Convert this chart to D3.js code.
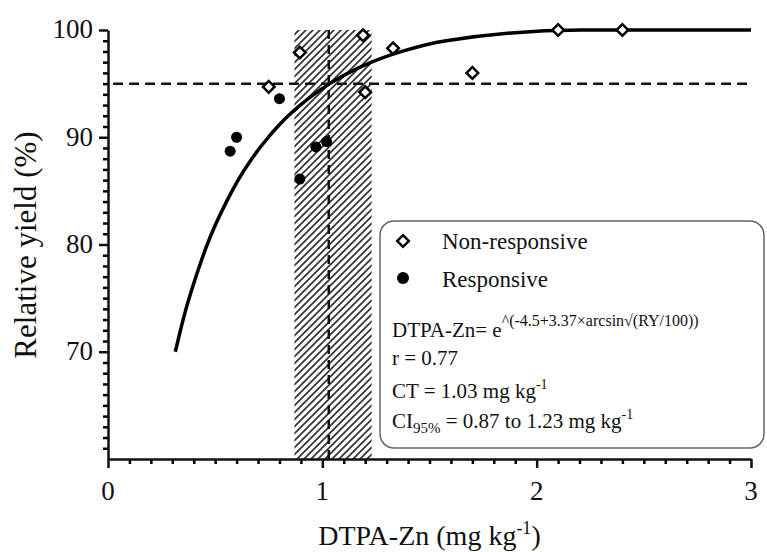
<!DOCTYPE html>
<html>
<head>
<meta charset="utf-8">
<script src="https://cdn.jsdelivr.net/npm/d3@7"></script>
<style>
  body { margin: 0; background: #fff; }
  #chart { position: relative; width: 767px; height: 552px; }
  #chart svg { position: absolute; left: 0; top: 0; }
  .lbl {
    position: absolute;
    white-space: nowrap;
    line-height: 1;
    color: #111;
    font-family: 'Liberation Serif', 'Times New Roman', serif;
  }
  .lbl .sup { position: relative; }
</style>
</head>
<body>
<div id="chart"></div>
<script>
const width = 767;
const height = 552;
const serif = "'Liberation Serif', 'Times New Roman', serif";

// non-responsive sites (open diamonds)
const nonRespX = [0.75, 0.895, 1.19, 1.20, 1.33, 1.70, 2.10, 2.40];
const nonRespY = [94.7, 97.9, 99.5, 94.2, 98.3, 96.0, 100, 100];

// responsive sites (filled dots)
const respX = [0.57, 0.60, 0.80, 0.895, 0.97, 1.02];
const respY = [88.7, 90.0, 93.6, 86.1, 89.1, 89.6];

// fitted curve
const curveX = [0.314, 0.338, 0.364, 0.394, 0.427, 0.463, 0.505, 0.553, 0.607, 0.671, 0.748,
                0.792, 0.841, 0.897, 0.961, 1.035, 1.122, 1.23, 1.371, 1.578, 2.21, 3.0];
const curveY = [70, 72, 74, 76, 78, 80, 82, 84, 86, 88, 90,
                91, 92, 93, 94, 95, 96, 97, 98, 99, 100, 100];

const critical = 1.03;     // CT
const ciRange = [0.87, 1.23];
const ryLevel = 95;

const xTicks = [0, 1, 2, 3];
const yTicks = [70, 80, 90, 100];

const chart = d3.select("#chart");

const svg = chart
  .append("svg")
  .attr("width", width)
  .attr("height", height);

// scales
let x = d3.scaleLinear().domain([0, 3]).range([108, 751]);
let y = d3.scaleLinear().domain([60, 100]).range([459, 30]);

// large labels are html text laid over the svg (keeps the serif face at big sizes)
// baseline sits about 0.8375em below the top of a line-height:1 box
let label = (html, px, baseline, size, anchor) => {
  let shift = anchor === "middle" ? "-50%" : anchor === "end" ? "-100%" : "0";
  return chart.append("div")
    .attr("class", "lbl")
    .style("left", px + "px")
    .style("top", (baseline - 0.8375 * size) + "px")
    .style("font-size", size + "px")
    .style("transform", `translateX(${shift})`)
    .html(html);
};

// hatch pattern for the 95% CI band
let defs = svg.append("defs");
defs.append("pattern")
  .attr("id", "hatch")
  .attr("patternUnits", "userSpaceOnUse")
  .attr("width", 7)
  .attr("height", 7)
  .append("path")
  .attr("d", "M-1,1 l2,-2 M0,7 l7,-7 M6,8 l2,-2")
  .attr("stroke", "#333")
  .attr("stroke-width", 1.7);

svg.append("rect")
  .attr("x", x(ciRange[0]))
  .attr("y", y(100))
  .attr("width", x(ciRange[1]) - x(ciRange[0]))
  .attr("height", y(60) - y(100))
  .attr("fill", "url(#hatch)");

// dashed reference lines
svg.append("line")
  .attr("x1", x(0) + 5)
  .attr("x2", x(3) - 4)
  .attr("y1", y(ryLevel))
  .attr("y2", y(ryLevel))
  .attr("stroke", "#111")
  .attr("stroke-width", 2.5)
  .attr("stroke-dasharray", "10,6");

svg.append("line")
  .attr("x1", x(critical))
  .attr("x2", x(critical))
  .attr("y1", y(100))
  .attr("y2", y(60))
  .attr("stroke", "#111")
  .attr("stroke-width", 2.5)
  .attr("stroke-dasharray", "9,6");

// axes: minor ticks first, then majors
let yMinor = d3.range(61, 100).filter(v => v % 10 !== 0);
let xMinor = d3.range(1, 30).map(v => v / 10).filter((v, i) => (i + 1) % 10 !== 0);

svg.append("g")
  .attr("transform", `translate(${x(0)},0)`)
  .call(d3.axisLeft(y).tickValues(yMinor).tickSize(5).tickSizeOuter(0).tickFormat(""))
  .call(g => g.select(".domain").remove())
  .selectAll("line").attr("stroke-width", 2.5);

svg.append("g")
  .attr("transform", `translate(0,${y(60)})`)
  .call(d3.axisBottom(x).tickValues(xMinor).tickSize(5).tickSizeOuter(0).tickFormat(""))
  .call(g => g.select(".domain").remove())
  .selectAll("line").attr("stroke-width", 2.5);

let yAxis = svg.append("g")
  .attr("transform", `translate(${x(0)},0)`)
  .call(d3.axisLeft(y).tickValues(yTicks).tickSize(9).tickSizeOuter(0).tickFormat(""));

let xAxis = svg.append("g")
  .attr("transform", `translate(0,${y(60)})`)
  .call(d3.axisBottom(x).tickValues(xTicks).tickSize(9).tickSizeOuter(0).tickFormat(""));

[yAxis, xAxis].forEach(g => {
  g.select(".domain").attr("stroke-width", 2.5).attr("stroke", "#111");
  g.selectAll("line").attr("stroke-width", 2.5).attr("stroke", "#111");
});

// tick labels
yTicks.forEach(v => label(v, x(0) - 15, y(v) + 9, 27, "end"));
xTicks.forEach(v => label(v, x(v), y(60) + 42, 27, "middle"));

// fitted curve
let line = d3.line()
  .x(d => x(d[0]))
  .y(d => y(d[1]))
  .curve(d3.curveMonotoneX);

svg.append("path")
  .datum(curveX.map((v, i) => [v, curveY[i]]))
  .attr("d", line)
  .attr("fill", "none")
  .attr("stroke", "#000")
  .attr("stroke-width", 3.5)
  .attr("stroke-linejoin", "round");

// points
let diamond = d3.symbol().type(d3.symbolSquare).size(68);

svg.append("g")
  .selectAll("path")
  .data(nonRespX.map((v, i) => [v, nonRespY[i]]))
  .enter()
  .append("path")
  .attr("d", diamond)
  .attr("transform", d => `translate(${x(d[0])},${y(d[1])}) rotate(45)`)
  .attr("fill", "#fff")
  .attr("stroke", "#000")
  .attr("stroke-width", 2.5);

svg.append("g")
  .selectAll("circle")
  .data(respX.map((v, i) => [v, respY[i]]))
  .enter()
  .append("circle")
  .attr("cx", d => x(d[0]))
  .attr("cy", d => y(d[1]))
  .attr("r", 5.5)
  .attr("fill", "#000");

// legend box
let legend = svg.append("g").attr("transform", "translate(380,221)");

legend.append("rect")
  .attr("width", 384)
  .attr("height", 227)
  .attr("rx", 14)
  .attr("fill", "#fff")
  .attr("stroke", "#666")
  .attr("stroke-width", 1.5);

legend.append("path")
  .attr("d", diamond)
  .attr("transform", "translate(23,20) rotate(45)")
  .attr("fill", "#fff")
  .attr("stroke", "#000")
  .attr("stroke-width", 2.5);

legend.append("circle")
  .attr("cx", 23)
  .attr("cy", 57)
  .attr("r", 6)
  .attr("fill", "#000");

label("Non-responsive", 442, 249, 23);
label("Responsive", 442, 287, 23);

// equation and stats
let eq = legend.append("text")
  .attr("x", 12)
  .attr("y", 116)
  .style("font-size", "21px");
eq.append("tspan").text("DTPA-Zn= e");
eq.append("tspan")
  .attr("dy", -11)
  .style("font-size", "16px")
  .text("^(-4.5+3.37×arcsin√(RY/100))");

legend.append("text")
  .attr("x", 12)
  .attr("y", 144)
  .style("font-size", "21px")
  .text("r = 0.77");

let ct = legend.append("text")
  .attr("x", 12)
  .attr("y", 177)
  .style("font-size", "21px");
ct.append("tspan").text("CT = 1.03 mg kg");
ct.append("tspan").attr("dy", -9).style("font-size", "14px").text("-1");

let ci = legend.append("text")
  .attr("x", 12)
  .attr("y", 207)
  .style("font-size", "21px");
ci.append("tspan").text("CI");
ci.append("tspan").attr("dy", 5).style("font-size", "15px").text("95%");
ci.append("tspan").attr("dy", -5).text(" = 0.87 to 1.23 mg kg");
ci.append("tspan").attr("dy", -9).style("font-size", "14px").text("-1");

svg.selectAll("text")
  .style("font-family", serif)
  .style("fill", "#111");

// axis titles
label('DTPA-Zn (mg kg<span class="sup" style="font-size:18px;top:-11px">-1</span>)',
      (x(0) + x(3)) / 2, 545, 28, "middle");

chart.append("div")
  .attr("class", "lbl")
  .style("left", "36px")
  .style("top", ((y(60) + y(100)) / 2) + "px")
  .style("font-size", "31px")
  .style("transform-origin", "0 0")
  .style("transform", "rotate(-90deg) translate(-50%, -0.8375em)")
  .text("Relative yield (%)");
</script>
</body>
</html>
